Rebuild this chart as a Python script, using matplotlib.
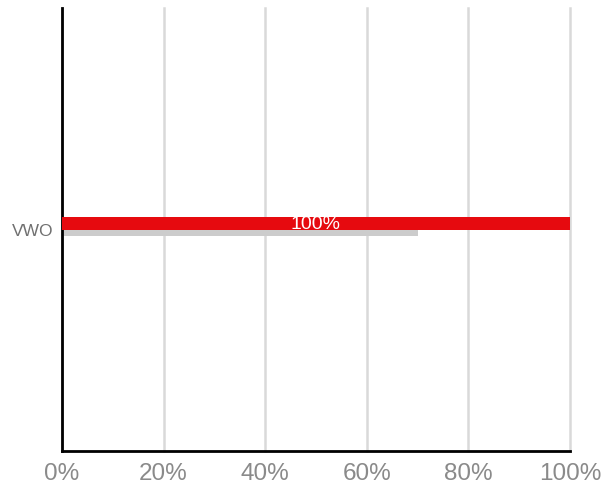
import matplotlib
matplotlib.use("Agg")
import matplotlib.pyplot as plt
from matplotlib.ticker import FuncFormatter

plt.rcParams["font.family"] = ["Liberation Sans", "DejaVu Sans"]

categories = ["VWO"]
primary = [100]
secondary = [70]
primary_label = ["100%"]
x_ticks = [0, 20, 40, 60, 80, 100]

RED = "#e60a0f"
GRAY = "#cccccc"

fig = plt.figure(figsize=(6.08, 4.96), dpi=100)
ax = fig.add_axes([62 / 608, 45 / 496, 508 / 608, 443 / 496])

y = 0
ax.barh([y + 0.0135], primary, height=0.029, color=RED, zorder=3)
ax.barh([y - 0.008], secondary, height=0.0135, color=GRAY, zorder=2)
for v, lab in zip(primary, primary_label):
    ax.text(v / 2, y + 0.011, lab, color="white", ha="center", va="center",
            fontsize=14, zorder=4)

ax.set_xlim(0, 100)
ax.set_ylim(-0.5, 0.5)
ax.set_xticks(x_ticks)
ax.xaxis.set_major_formatter(FuncFormatter(lambda v, _: f"{v:.0f}%"))
ax.set_yticks([y])
ax.set_yticklabels(categories)
ax.tick_params(axis="x", length=0, pad=9, labelsize=17.5, labelcolor="#8a8a8a")
ax.tick_params(axis="y", length=0, pad=6, labelsize=12.5, labelcolor="#707070")
ax.grid(axis="x", color="#d9d9d9", linewidth=1.8, zorder=0)
for gl in ax.get_xgridlines():
    gl.set_clip_on(False)
ax.set_axisbelow(True)
for s in ["top", "right"]:
    ax.spines[s].set_visible(False)
for s in ["left", "bottom"]:
    ax.spines[s].set_color("black")
    ax.spines[s].set_linewidth(2)

fig.savefig("out.png", dpi=100)
